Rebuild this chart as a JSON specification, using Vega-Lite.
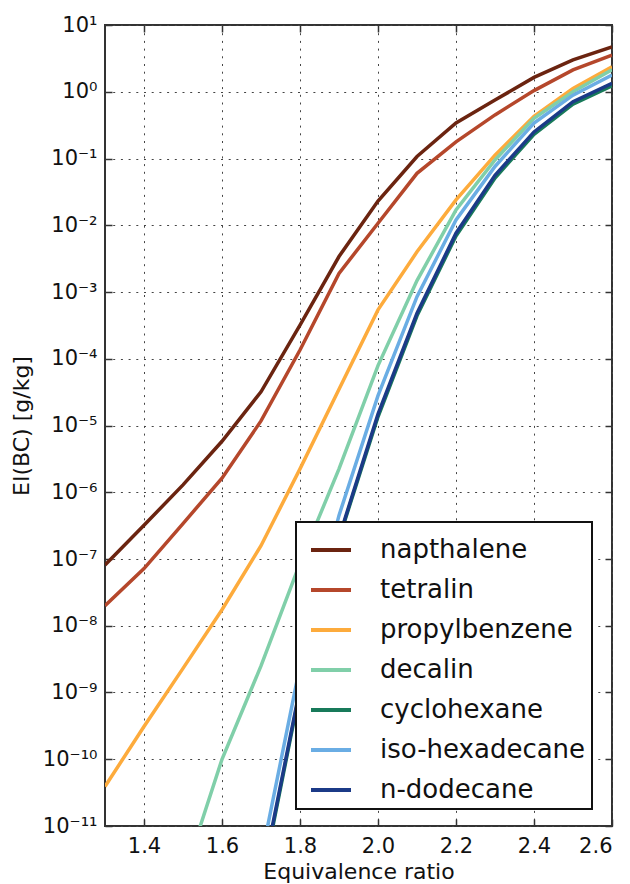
{
  "$schema": "https://vega.github.io/schema/vega-lite/v6.json",
  "width": 507,
  "height": 801,
  "autosize": "none",
  "padding": {"left": 105, "top": 25, "right": 18, "bottom": 58},
  "background": "white",
  "config": {
    "font": "DejaVu Sans",
    "view": {"stroke": "#333", "strokeWidth": 2},
    "axis": {
      "domain": false,
      "grid": true,
      "gridColor": "#444",
      "gridDash": [2, 5.7],
      "gridWidth": 1,
      "tickColor": "#333",
      "tickWidth": 1.5,
      "tickSize": -7,
      "labelFont": "DejaVu Sans",
      "labelColor": "#111",
      "labelFontSize": 21,
      "titleFont": "DejaVu Sans",
      "titleFontSize": 22,
      "titleFontWeight": "normal",
      "titleColor": "#111"
    },
    "legend": {
      "fillColor": "white",
      "strokeColor": "#111",
      "strokeWidth": 2,
      "padding": 6,
      "symbolType": "stroke",
      "symbolSize": 1600,
      "symbolStrokeWidth": 4,
      "labelFont": "DejaVu Sans",
      "labelFontSize": 26,
      "labelColor": "#111",
      "labelOffset": 27,
      "labelLimit": 400,
      "rowPadding": 5,
      "symbolOffset": 7
    }
  },
  "data": {
    "values": [
      {"fuel": "napthalene", "phi": 1.3, "ei": 8.1e-8},
      {"fuel": "napthalene", "phi": 1.4, "ei": 3.2e-7},
      {"fuel": "napthalene", "phi": 1.5, "ei": 1.29e-6},
      {"fuel": "napthalene", "phi": 1.6, "ei": 5.8e-6},
      {"fuel": "napthalene", "phi": 1.7, "ei": 3.2e-5},
      {"fuel": "napthalene", "phi": 1.8, "ei": 3.2e-4},
      {"fuel": "napthalene", "phi": 1.9, "ei": 3.4e-3},
      {"fuel": "napthalene", "phi": 2.0, "ei": 2.3e-2},
      {"fuel": "napthalene", "phi": 2.1, "ei": 0.107},
      {"fuel": "napthalene", "phi": 2.2, "ei": 0.34},
      {"fuel": "napthalene", "phi": 2.3, "ei": 0.75},
      {"fuel": "napthalene", "phi": 2.4, "ei": 1.64},
      {"fuel": "napthalene", "phi": 2.5, "ei": 3.0},
      {"fuel": "napthalene", "phi": 2.6, "ei": 4.7},

      {"fuel": "tetralin", "phi": 1.3, "ei": 2.0e-8},
      {"fuel": "tetralin", "phi": 1.4, "ei": 7.2e-8},
      {"fuel": "tetralin", "phi": 1.5, "ei": 3.4e-7},
      {"fuel": "tetralin", "phi": 1.6, "ei": 1.62e-6},
      {"fuel": "tetralin", "phi": 1.7, "ei": 1.17e-5},
      {"fuel": "tetralin", "phi": 1.8, "ei": 1.35e-4},
      {"fuel": "tetralin", "phi": 1.9, "ei": 1.9e-3},
      {"fuel": "tetralin", "phi": 2.0, "ei": 1.07e-2},
      {"fuel": "tetralin", "phi": 2.1, "ei": 6.0e-2},
      {"fuel": "tetralin", "phi": 2.2, "ei": 0.178},
      {"fuel": "tetralin", "phi": 2.3, "ei": 0.45},
      {"fuel": "tetralin", "phi": 2.4, "ei": 1.04},
      {"fuel": "tetralin", "phi": 2.5, "ei": 2.12},
      {"fuel": "tetralin", "phi": 2.6, "ei": 3.55},

      {"fuel": "propylbenzene", "phi": 1.3, "ei": 3.9e-11},
      {"fuel": "propylbenzene", "phi": 1.4, "ei": 3.1e-10},
      {"fuel": "propylbenzene", "phi": 1.5, "ei": 2.3e-9},
      {"fuel": "propylbenzene", "phi": 1.6, "ei": 1.74e-8},
      {"fuel": "propylbenzene", "phi": 1.7, "ei": 1.58e-7},
      {"fuel": "propylbenzene", "phi": 1.8, "ei": 2.24e-6},
      {"fuel": "propylbenzene", "phi": 1.9, "ei": 3.5e-5},
      {"fuel": "propylbenzene", "phi": 2.0, "ei": 5.4e-4},
      {"fuel": "propylbenzene", "phi": 2.1, "ei": 4.0e-3},
      {"fuel": "propylbenzene", "phi": 2.2, "ei": 2.4e-2},
      {"fuel": "propylbenzene", "phi": 2.3, "ei": 0.112},
      {"fuel": "propylbenzene", "phi": 2.4, "ei": 0.43},
      {"fuel": "propylbenzene", "phi": 2.5, "ei": 1.12},
      {"fuel": "propylbenzene", "phi": 2.6, "ei": 2.37},

      {"fuel": "decalin", "phi": 1.5, "ei": 1.6e-12},
      {"fuel": "decalin", "phi": 1.6, "ei": 1.0e-10},
      {"fuel": "decalin", "phi": 1.7, "ei": 2.5e-9},
      {"fuel": "decalin", "phi": 1.8, "ei": 8.7e-8},
      {"fuel": "decalin", "phi": 1.9, "ei": 2.24e-6},
      {"fuel": "decalin", "phi": 2.0, "ei": 7.9e-5},
      {"fuel": "decalin", "phi": 2.1, "ei": 1.48e-3},
      {"fuel": "decalin", "phi": 2.2, "ei": 1.7e-2},
      {"fuel": "decalin", "phi": 2.3, "ei": 9.5e-2},
      {"fuel": "decalin", "phi": 2.4, "ei": 0.40},
      {"fuel": "decalin", "phi": 2.5, "ei": 1.0},
      {"fuel": "decalin", "phi": 2.6, "ei": 2.14},

      {"fuel": "cyclohexane", "phi": 1.7, "ei": 1.26e-12},
      {"fuel": "cyclohexane", "phi": 1.8, "ei": 1.07e-9},
      {"fuel": "cyclohexane", "phi": 1.9, "ei": 2.0e-7},
      {"fuel": "cyclohexane", "phi": 2.0, "ei": 1.35e-5},
      {"fuel": "cyclohexane", "phi": 2.1, "ei": 4.4e-4},
      {"fuel": "cyclohexane", "phi": 2.2, "ei": 6.9e-3},
      {"fuel": "cyclohexane", "phi": 2.3, "ei": 5.1e-2},
      {"fuel": "cyclohexane", "phi": 2.4, "ei": 0.23},
      {"fuel": "cyclohexane", "phi": 2.5, "ei": 0.65},
      {"fuel": "cyclohexane", "phi": 2.6, "ei": 1.23},

      {"fuel": "iso-hexadecane", "phi": 1.7, "ei": 3.2e-12},
      {"fuel": "iso-hexadecane", "phi": 1.8, "ei": 2.5e-9},
      {"fuel": "iso-hexadecane", "phi": 1.9, "ei": 4.5e-7},
      {"fuel": "iso-hexadecane", "phi": 2.0, "ei": 2.8e-5},
      {"fuel": "iso-hexadecane", "phi": 2.1, "ei": 8.5e-4},
      {"fuel": "iso-hexadecane", "phi": 2.2, "ei": 1.2e-2},
      {"fuel": "iso-hexadecane", "phi": 2.3, "ei": 7.6e-2},
      {"fuel": "iso-hexadecane", "phi": 2.4, "ei": 0.34},
      {"fuel": "iso-hexadecane", "phi": 2.5, "ei": 0.89},
      {"fuel": "iso-hexadecane", "phi": 2.6, "ei": 1.78},

      {"fuel": "n-dodecane", "phi": 1.7, "ei": 1.4e-12},
      {"fuel": "n-dodecane", "phi": 1.8, "ei": 1.17e-9},
      {"fuel": "n-dodecane", "phi": 1.9, "ei": 2.1e-7},
      {"fuel": "n-dodecane", "phi": 2.0, "ei": 1.48e-5},
      {"fuel": "n-dodecane", "phi": 2.1, "ei": 4.8e-4},
      {"fuel": "n-dodecane", "phi": 2.2, "ei": 7.6e-3},
      {"fuel": "n-dodecane", "phi": 2.3, "ei": 5.6e-2},
      {"fuel": "n-dodecane", "phi": 2.4, "ei": 0.25},
      {"fuel": "n-dodecane", "phi": 2.5, "ei": 0.71},
      {"fuel": "n-dodecane", "phi": 2.6, "ei": 1.34}
    ]
  },
  "layer": [
    {
      "mark": {"type": "line", "clip": true, "strokeWidth": 3.5},
      "encoding": {
        "x": {
          "field": "phi",
          "type": "quantitative",
          "scale": {"domain": [1.3, 2.6], "nice": false, "zero": false},
          "axis": {
            "orient": "bottom",
            "values": [1.4, 1.6, 1.8, 2.0, 2.2, 2.4, 2.6],
            "format": ".1f",
            "title": "Equivalence ratio",
            "labelPadding": 16,
            "titleY": 52,
            "titleBaseline": "alphabetic"
          }
        },
        "y": {
          "field": "ei",
          "type": "quantitative",
          "scale": {"type": "log", "domain": [1e-11, 10], "nice": false},
          "axis": {
            "orient": "left",
            "values": [1e-11, 1e-10, 1e-9, 1e-8, 1e-7, 1e-6, 1e-5, 1e-4, 1e-3, 1e-2, 1e-1, 1, 10],
            "labelExpr": "'10' + replace(replace(replace(replace(replace(replace(replace(replace(replace(replace(replace('' + round(log(datum.value)/LN10), regexp('-','g'), '⁻'), regexp('0','g'), '⁰'), regexp('1','g'), '¹'), regexp('2','g'), '²'), regexp('3','g'), '³'), regexp('4','g'), '⁴'), regexp('5','g'), '⁵'), regexp('6','g'), '⁶'), regexp('7','g'), '⁷'), regexp('8','g'), '⁸'), regexp('9','g'), '⁹')",
            "labelPadding": 15,
            "labelBaseline": "middle",
            "title": "EI(BC) [g/kg]",
            "titleX": -77,
            "titleY": 400.5,
            "titleAngle": -90,
            "titleAlign": "center",
            "titleBaseline": "alphabetic"
          }
        },
        "color": {
          "field": "fuel",
          "type": "nominal",
          "scale": {
            "domain": ["napthalene", "tetralin", "propylbenzene", "decalin", "cyclohexane", "iso-hexadecane", "n-dodecane"],
            "range": ["#6b2410", "#b5472b", "#fdab3c", "#80cfa9", "#187a5a", "#6aade4", "#1b3a87"]
          },
          "legend": {"title": null, "orient": "none", "legendX": 191, "legendY": 497}
        }
      }
    },
    {
      "mark": {"type": "line", "opacity": 0},
      "encoding": {
        "x": {
          "field": "phi",
          "type": "quantitative",
          "axis": {
            "orient": "top",
            "values": [1.4, 1.6, 1.8, 2.0, 2.2, 2.4, 2.6],
            "labels": false,
            "grid": false,
            "title": null
          }
        },
        "y": {
          "field": "ei",
          "type": "quantitative",
          "axis": {
            "orient": "right",
            "values": [1e-11, 1e-10, 1e-9, 1e-8, 1e-7, 1e-6, 1e-5, 1e-4, 1e-3, 1e-2, 1e-1, 1, 10],
            "labels": false,
            "grid": false,
            "title": null
          }
        }
      }
    }
  ],
  "resolve": {"axis": {"x": "independent", "y": "independent"}}
}
